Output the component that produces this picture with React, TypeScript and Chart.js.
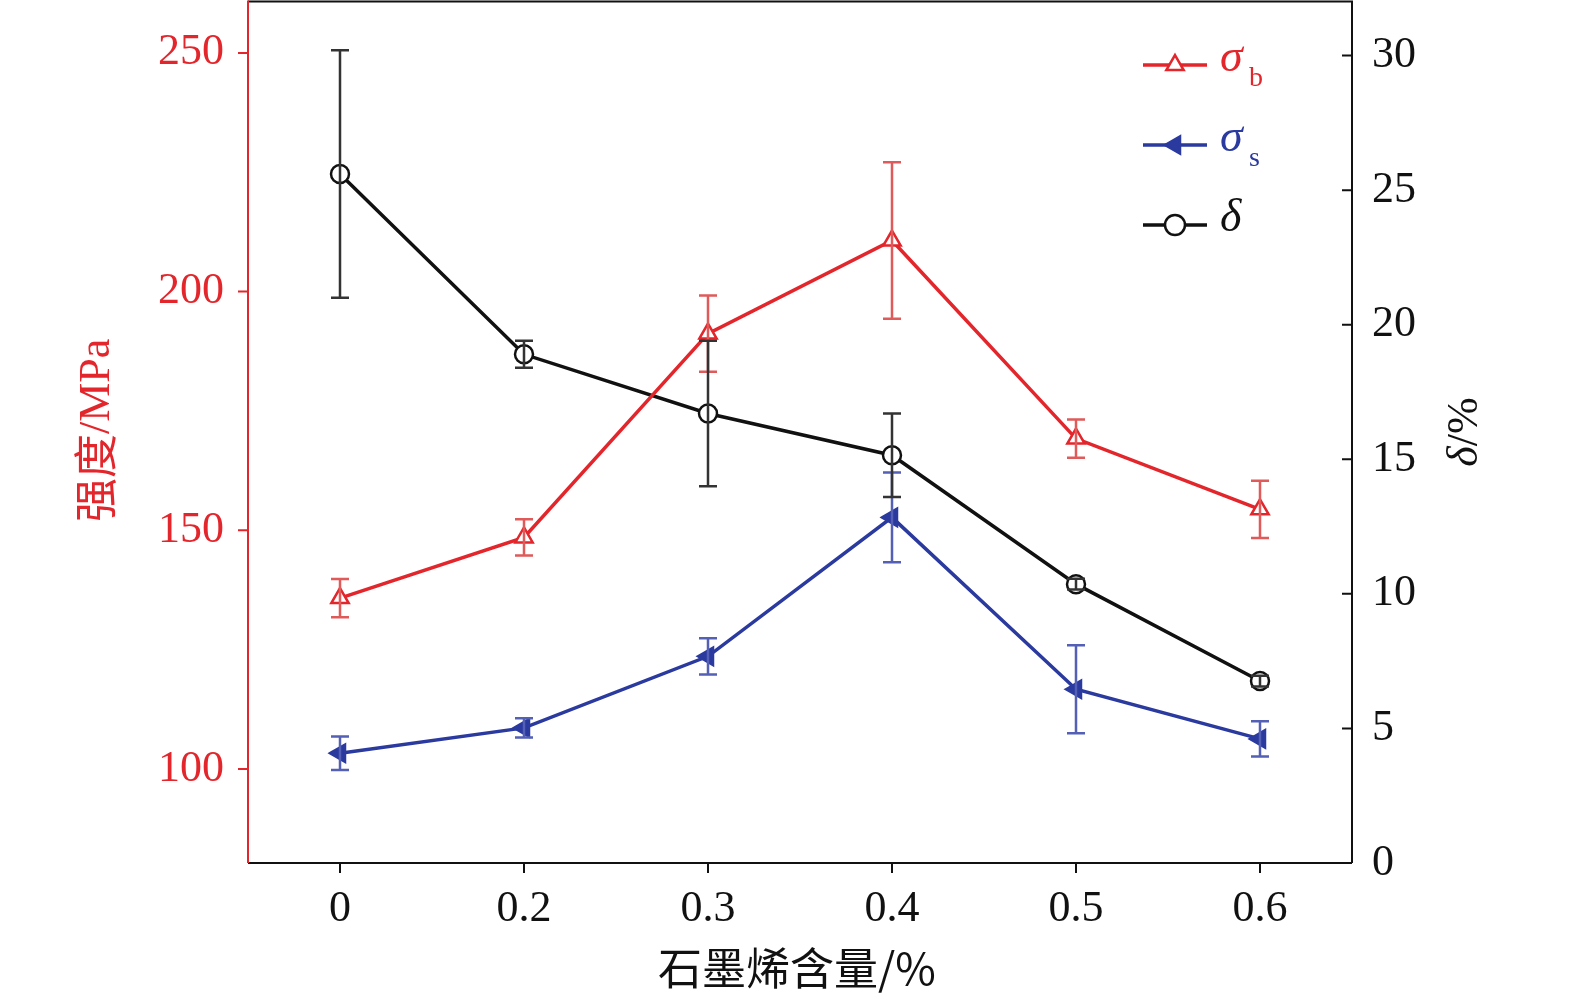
import React, { useEffect, useRef } from "react";
import { Chart, registerables } from "chart.js";
import { drawPoint } from "chart.js/helpers";
Chart.register(...registerables);

const categories = ["0", "0.2", "0.3", "0.4", "0.5", "0.6"];
const sigmaB = [135.8, 148.5, 191.2, 210.7, 169.2, 154.4];
const sigmaBErr = [4, 3.8, 8, 16.4, 4, 6];
const sigmaS = [103.3, 108.6, 123.6, 152.7, 116.7, 106.3];
const sigmaSErr = [3.5, 2, 3.8, 9.4, 9.2, 3.7];
const delta = [25.6, 18.9, 16.7, 15.15, 10.36, 6.76];
const deltaErr = [4.6, 0.5, 2.7, 1.55, 0.2, 0.2];
const leftTicks = [100, 150, 200, 250];
const rightTicks = [0, 5, 10, 15, 20, 25, 30];

const RED = "#e3262b";
const BLUE = "#2a3a9e";
const BLACK = "#111111";
const SERIF = "'Liberation Serif', 'DejaVu Serif', serif";
const OY = 50;

export default function App() {
  const ref = useRef<HTMLCanvasElement>(null);
  useEffect(() => {
    document.body.style.margin = "0";
    const errPlugin = {
      id: "extras",
      afterDatasetsDraw(chart: any) {
        const ctx = chart.ctx;
        const x = chart.scales.x, yl = chart.scales.y, yr = chart.scales.y2;
        const ca = chart.chartArea;
        const sets: [number[], number[], any, string][] = [
          [sigmaB, sigmaBErr, yl, "#e05a5a"],
          [sigmaS, sigmaSErr, yl, "#5360b5"],
          [delta, deltaErr, yr, "#333333"],
        ];
        ctx.save();
        ctx.lineWidth = 2.5;
        for (const [v, e, s, c] of sets) {
          ctx.strokeStyle = c;
          v.forEach((val, i) => {
            const px = x.getPixelForValue(i);
            const t = s.getPixelForValue(val + e[i]);
            const b = s.getPixelForValue(val - e[i]);
            ctx.beginPath();
            ctx.moveTo(px, t); ctx.lineTo(px, b);
            ctx.moveTo(px - 9, t); ctx.lineTo(px + 9, t);
            ctx.moveTo(px - 9, b); ctx.lineTo(px + 9, b);
            ctx.stroke();
          });
        }
        ctx.lineWidth = 2;
        ctx.strokeStyle = BLACK;
        ctx.beginPath();
        ctx.moveTo(ca.left, ca.top + 1); ctx.lineTo(ca.right, ca.top + 1);
        ctx.moveTo(ca.left, ca.bottom); ctx.lineTo(ca.right, ca.bottom);
        ctx.moveTo(ca.right, ca.top); ctx.lineTo(ca.right, ca.bottom);
        ctx.stroke();
        ctx.strokeStyle = RED;
        ctx.beginPath();
        ctx.moveTo(ca.left, ca.top); ctx.lineTo(ca.left, ca.bottom);
        leftTicks.forEach((t) => {
          const py = yl.getPixelForValue(t);
          ctx.moveTo(ca.left - 10, py); ctx.lineTo(ca.left, py);
        });
        ctx.stroke();
        ctx.strokeStyle = BLACK;
        ctx.beginPath();
        rightTicks.forEach((t) => {
          const py = yr.getPixelForValue(t);
          ctx.moveTo(ca.right - 10, py); ctx.lineTo(ca.right, py);
        });
        categories.forEach((_, i) => {
          const px = x.getPixelForValue(i);
          ctx.moveTo(px, ca.bottom); ctx.lineTo(px, ca.bottom + 10);
        });
        ctx.stroke();
        ctx.fillStyle = RED;
        ctx.font = `44px 'Noto Sans CJK SC', sans-serif`;
        ctx.save();
        ctx.translate(95, 432 + OY);
        ctx.rotate(-Math.PI / 2);
        ctx.textAlign = "right";
        ctx.textBaseline = "middle";
        ctx.fillText("强度", -2, 0);
        ctx.textAlign = "left";
        ctx.font = `44px ${SERIF}`;
        ctx.fillText("/MPa", -2, 2);
        ctx.restore();
        ctx.fillStyle = BLACK;
        ctx.save();
        ctx.translate(1465, 432 + OY);
        ctx.rotate(-Math.PI / 2);
        ctx.textBaseline = "middle";
        ctx.font = `italic 44px ${SERIF}`;
        const dw = ctx.measureText("δ").width;
        ctx.font = `44px ${SERIF}`;
        const rw = ctx.measureText("/%").width;
        const sx = -(dw + rw) / 2;
        ctx.font = `italic 44px ${SERIF}`;
        ctx.textAlign = "left";
        ctx.fillText("δ", sx, 0);
        ctx.font = `44px ${SERIF}`;
        ctx.fillText("/%", sx + dw, 0);
        ctx.restore();
        ctx.textAlign = "center";
        ctx.textBaseline = "middle";
        ctx.font = `44px 'Noto Sans CJK SC', sans-serif`;
        ctx.fillText("石墨烯含量/%", 797, 968 + OY);
        const items: [string, string, string, string, number, boolean][] = [
          ["σ", "b", RED, "triangle", 0, false],
          ["σ", "s", BLUE, "triangle", -90, true],
          ["δ", "", BLACK, "circle", 0, false],
        ];
        const ly = [65, 145, 225];
        items.forEach(([s, sub, c, ps, rot, filled], i) => {
          const y = ly[i] + OY;
          ctx.strokeStyle = c; ctx.lineWidth = 3.5;
          ctx.beginPath(); ctx.moveTo(1143, y); ctx.lineTo(1207, y); ctx.stroke();
          ctx.fillStyle = filled ? c : "#fff";
          ctx.lineWidth = 2.5;
          drawPoint(ctx, { pointStyle: ps, radius: 10, rotation: rot, borderWidth: 2.5 } as any, 1175, y);
          ctx.fillStyle = c;
          ctx.textAlign = "left";
          ctx.font = `italic 46px ${SERIF}`;
          ctx.fillText(s, 1220, y - 6);
          if (sub) {
            ctx.font = `28px ${SERIF}`;
            ctx.fillText(sub, 1249, y + 14);
          }
        });
        ctx.restore();
      },
    };
    const common = { borderWidth: 3.5, pointRadius: 10, pointBorderWidth: 2.5 };
    const chart = new Chart(ref.current!, {
      type: "line",
      data: {
        labels: categories,
        datasets: [
          { ...common, data: sigmaB, borderColor: RED, pointStyle: "triangle", pointBackgroundColor: "#fff", pointBorderColor: RED, yAxisID: "y" },
          { ...common, data: sigmaS, borderColor: BLUE, pointStyle: "triangle", pointRotation: -90, pointBackgroundColor: BLUE, pointBorderColor: BLUE, yAxisID: "y" },
          { ...common, pointRadius: 9, data: delta, borderColor: BLACK, pointStyle: "circle", pointBackgroundColor: "#fff", pointBorderColor: BLACK, yAxisID: "y2" },
        ],
      },
      options: {
        animation: false,
        responsive: false,
        layout: { padding: 0 },
        plugins: { legend: { display: false }, tooltip: { enabled: false } },
        scales: {
          x: {
            offset: true,
            grid: { display: false, drawTicks: false },
            border: { display: false },
            ticks: { color: BLACK, font: { family: SERIF, size: 44 }, padding: 20 },
            afterFit: (s: any) => { s.height = 145; },
          },
          y: {
            position: "left", min: 80.3, max: 261,
            afterBuildTicks: (s: any) => { s.ticks = leftTicks.map((v) => ({ value: v })); },
            grid: { display: false, drawTicks: false },
            border: { display: false },
            ticks: { color: RED, font: { family: SERIF, size: 44 }, padding: 24 },
            afterFit: (s: any) => { s.width = 248; },
          },
          y2: {
            position: "right", min: 0, max: 32.05,
            afterBuildTicks: (s: any) => { s.ticks = rightTicks.map((v) => ({ value: v })); },
            grid: { display: false, drawTicks: false },
            border: { display: false },
            ticks: { color: BLACK, font: { family: SERIF, size: 44 }, padding: 20 },
            afterFit: (s: any) => { s.width = 223; },
          },
        },
      },
      plugins: [errPlugin],
    } as any);
    return () => chart.destroy();
  }, []);
  return <canvas ref={ref} width={1575} height={1008 + OY} style={{ display: "block", width: 1575, height: 1008 + OY, marginTop: -OY }} />;
}
